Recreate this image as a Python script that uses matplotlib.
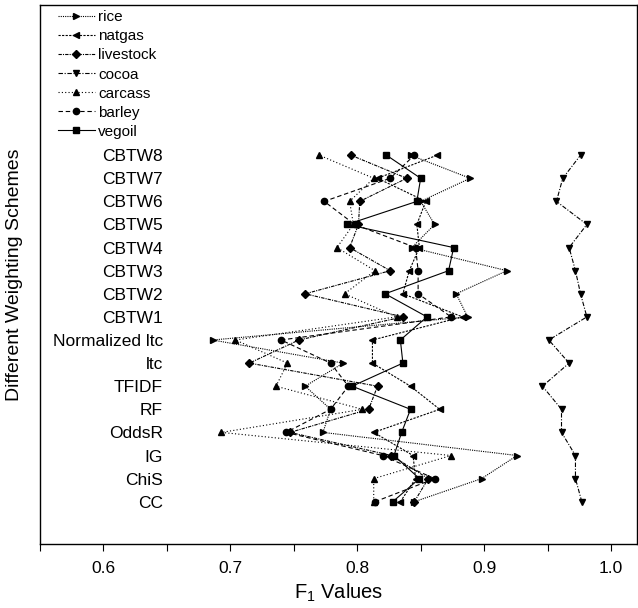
import matplotlib
matplotlib.use("Agg")
import matplotlib.pyplot as plt
from matplotlib.ticker import MultipleLocator

plt.rcParams['font.family'] = ['Liberation Sans', 'DejaVu Sans']
plt.rcParams['mathtext.fontset'] = 'custom'
plt.rcParams['mathtext.rm'] = 'Liberation Sans'
plt.rcParams['mathtext.it'] = 'Liberation Sans'
plt.rcParams['mathtext.default'] = 'regular'

# Weighting schemes, bottom (CC) to top (CBTW8)
schemes = ["CC", "ChiS", "IG", "OddsR", "RF", "TFIDF", "ltc", "Normalized ltc",
           "CBTW1", "CBTW2", "CBTW3", "CBTW4", "CBTW5", "CBTW6", "CBTW7", "CBTW8"]

# F1 values per category, in the same order as `schemes`
rice = [0.845, 0.898, 0.926, 0.773, 0.779, 0.759, 0.789, 0.686,
        0.887, 0.878, 0.918, 0.843, 0.861, 0.850, 0.889, 0.842]
natgas = [0.834, 0.846, 0.844, 0.813, 0.865, 0.842, 0.812, 0.812,
          0.883, 0.836, 0.841, 0.849, 0.847, 0.854, 0.816, 0.863]
livestock = [0.845, 0.856, 0.827, 0.747, 0.809, 0.816, 0.715, 0.754,
             0.836, 0.759, 0.826, 0.794, 0.801, 0.802, 0.839, 0.795]
cocoa = [0.977, 0.972, 0.972, 0.961, 0.961, 0.946, 0.967, 0.951,
         0.981, 0.976, 0.972, 0.967, 0.981, 0.957, 0.962, 0.976]
carcass = [0.813, 0.813, 0.874, 0.693, 0.804, 0.736, 0.745, 0.704,
           0.831, 0.790, 0.814, 0.784, 0.797, 0.794, 0.813, 0.770]
barley = [0.814, 0.861, 0.820, 0.744, 0.779, 0.793, 0.779, 0.740,
          0.874, 0.848, 0.848, 0.846, 0.798, 0.774, 0.826, 0.845]
vegoil = [0.828, 0.849, 0.829, 0.835, 0.842, 0.796, 0.836, 0.834,
          0.855, 0.822, 0.872, 0.876, 0.792, 0.847, 0.850, 0.823]

series = [
    ("rice", rice, ">", (0, (1, 1))),
    ("natgas", natgas, "<", (0, (2, 1.2))),
    ("livestock", livestock, "D", (0, (3, 1, 1, 1))),
    ("cocoa", cocoa, "v", (0, (4, 1.5, 1, 1.5))),
    ("carcass", carcass, "^", (0, (1, 2))),
    ("barley", barley, "o", (0, (4, 2.5))),
    ("vegoil", vegoil, "s", "-"),
]

fig = plt.figure(figsize=(6.38, 6.08), dpi=100)
ax = fig.add_axes([40 / 638, 64 / 608, 597 / 638, 539 / 608])

ypos = list(range(len(schemes)))
for name, vals, mk, ls in series:
    ms = 3.6 if mk == "D" else 4.5
    ax.plot(vals, ypos, color="black", linestyle=ls, linewidth=0.8,
            marker=mk, markersize=ms, markerfacecolor="black",
            markeredgecolor="black", label=name)

ax.set_xlim(0.55, 1.0205)
ax.set_ylim(-1.83, 21.5)
ax.xaxis.set_major_locator(MultipleLocator(0.1))
ax.xaxis.set_minor_locator(MultipleLocator(0.05))
ax.xaxis.set_major_formatter(plt.FuncFormatter(lambda v, p: f"{v:.1f}"))
ax.tick_params(axis="x", which="both", direction="out", length=5, width=0.8,
               labelsize=12.5, pad=7, top=False)

ax.set_yticks(ypos)
ax.set_yticklabels(schemes, fontsize=12.5)
ax.tick_params(axis="y", which="both", length=0, pad=-88.5)
for lbl in ax.get_yticklabels():
    lbl.set_horizontalalignment("right")

for sp in ax.spines.values():
    sp.set_linewidth(1.0)

ax.set_xlabel("F$_1$ Values", fontsize=14.5, labelpad=4)
ax.set_ylabel("Different Weighting Schemes", fontsize=14, labelpad=12)

ax.legend(loc="upper left", bbox_to_anchor=(0.03, 0.99), frameon=False,
          fontsize=11, handlelength=2.4, handletextpad=0.25,
          labelspacing=0.33, borderpad=0.0, borderaxespad=0.0)

fig.savefig("out.png", dpi=100)
